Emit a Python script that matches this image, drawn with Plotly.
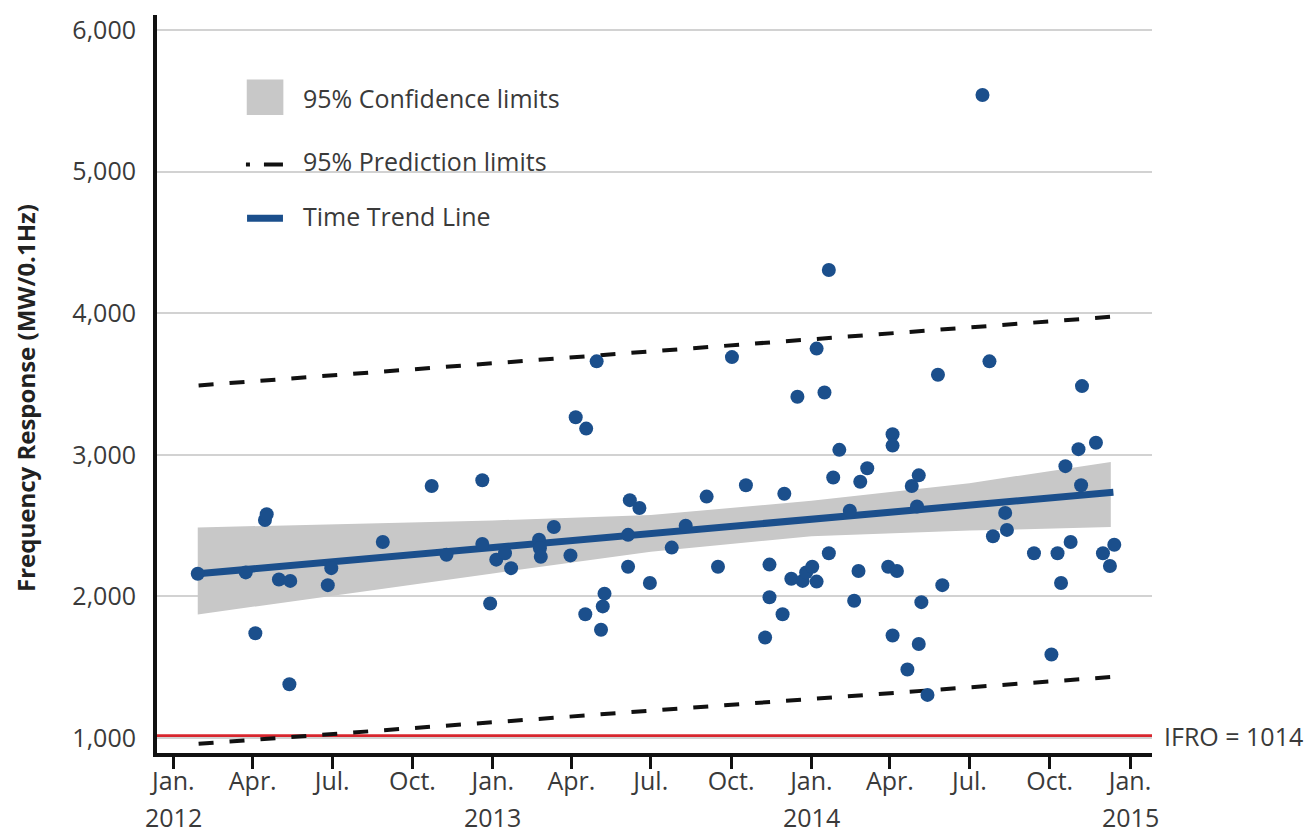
import plotly.graph_objects as go

# ---------------- data ----------------
obs_dates = [
    "2012-01-29", "2012-03-24", "2012-04-04", "2012-04-15", "2012-04-17", "2012-05-01",
    "2012-05-13", "2012-05-14", "2012-06-26", "2012-06-30", "2012-08-28", "2012-10-23",
    "2012-11-09", "2012-12-20", "2012-12-20", "2012-12-29", "2013-01-05", "2013-01-15",
    "2013-01-22", "2013-02-23", "2013-02-24", "2013-02-25", "2013-03-12", "2013-03-31",
    "2013-04-06", "2013-04-17", "2013-04-18", "2013-04-30", "2013-05-05", "2013-05-07",
    "2013-05-09", "2013-06-05", "2013-06-05", "2013-06-07", "2013-06-18", "2013-06-30",
    "2013-07-25", "2013-08-10", "2013-09-03", "2013-09-16", "2013-10-02", "2013-10-18",
    "2013-11-09", "2013-11-14", "2013-11-14", "2013-11-29", "2013-12-01", "2013-12-09",
    "2013-12-16", "2013-12-22", "2013-12-26", "2014-01-02", "2014-01-07", "2014-01-07",
    "2014-01-16", "2014-01-21", "2014-01-21", "2014-01-26", "2014-02-02", "2014-02-14",
    "2014-02-19", "2014-02-24", "2014-02-26", "2014-03-06", "2014-03-30", "2014-04-04",
    "2014-04-04", "2014-04-04", "2014-04-09", "2014-04-21", "2014-04-26", "2014-05-02",
    "2014-05-04", "2014-05-04", "2014-05-07", "2014-05-14", "2014-05-26", "2014-05-31",
    "2014-07-16", "2014-07-24", "2014-07-28", "2014-08-11", "2014-08-13", "2014-09-13",
    "2014-10-03", "2014-10-10", "2014-10-14", "2014-10-19", "2014-10-25", "2014-11-03",
    "2014-11-06", "2014-11-07", "2014-11-23", "2014-12-01", "2014-12-09", "2014-12-14",
]
obs_values = [
    2160, 2170, 1740, 2540, 2580, 2120,
    1380, 2110, 2080, 2200, 2385, 2780,
    2295, 2820, 2370, 1950, 2260, 2305,
    2200, 2400, 2340, 2280, 2490, 2290,
    3265, 1875, 3185, 3660, 1765, 1930,
    2020, 2435, 2210, 2680, 2625, 2095,
    2345, 2500, 2705, 2210, 3690, 2785,
    1710, 2225, 1995, 1875, 2725, 2125,
    3410, 2110, 2170, 2210, 2105, 3750,
    3440, 4305, 2305, 2840, 3035, 2605,
    1970, 2180, 2810, 2905, 2210, 3145,
    3065, 1725, 2180, 1485, 2780, 2635,
    2855, 1665, 1960, 1305, 3565, 2080,
    5540, 3660, 2425, 2590, 2470, 2305,
    1590, 2305, 2095, 2920, 2385, 3040,
    2785, 3485, 3085, 2305, 2215, 2365,
]

trend_dates = ["2012-01-29", "2014-12-13"]
trend_values = [2160, 2735]

band_dates = ["2012-01-29", "2012-07-01", "2013-01-01", "2013-07-01",
              "2014-01-01", "2014-07-01", "2014-12-10"]
band_upper = [2487, 2510, 2537, 2575, 2675, 2800, 2950]
band_lower = [1873, 2004, 2163, 2315, 2425, 2465, 2490]

pred_dates = ["2012-01-30", "2014-12-11"]
pred_upper = [3490, 3975]
pred_lower = [960, 1432]

IFRO = 1014

tick_dates = ["2012-01-01", "2012-04-01", "2012-07-01", "2012-10-01",
              "2013-01-01", "2013-04-01", "2013-07-01", "2013-10-01",
              "2014-01-01", "2014-04-01", "2014-07-01", "2014-10-01",
              "2015-01-01"]
tick_text = ["Jan.", "Apr.", "Jul.", "Oct.", "Jan.", "Apr.", "Jul.", "Oct.",
             "Jan.", "Apr.", "Jul.", "Oct.", "Jan."]
year_dates = ["2012-01-01", "2013-01-01", "2014-01-01", "2015-01-01"]
year_text = ["2012", "2013", "2014", "2015"]

legend_labels = ["95% Confidence limits", "95% Prediction limits", "Time Trend Line"]

# ---------------- styles ----------------
FONT = "Open Sans"
FS = 25
TXT = "#3a3a3a"
BLUE = "#1b4f8c"
GRAY_BAND = "#c8c8c8"
RED = "#d8262e"

fig = go.Figure()

# confidence band
fig.add_trace(go.Scatter(
    x=band_dates + band_dates[::-1],
    y=band_upper + band_lower[::-1],
    fill="toself", fillcolor=GRAY_BAND, line=dict(width=0),
    mode="lines", hoverinfo="skip", showlegend=False))

# prediction limits
for vals in (pred_upper, pred_lower):
    fig.add_trace(go.Scatter(
        x=pred_dates, y=vals, mode="lines",
        line=dict(color="#111111", width=4, dash="15px,16px"),
        showlegend=False))

# trend line
fig.add_trace(go.Scatter(
    x=trend_dates, y=trend_values, mode="lines",
    line=dict(color=BLUE, width=7), showlegend=False))

# observations
fig.add_trace(go.Scatter(
    x=obs_dates, y=obs_values, mode="markers",
    marker=dict(color=BLUE, size=14, line=dict(width=0)),
    showlegend=False))

shapes = []
# IFRO line
shapes.append(dict(type="line", xref="paper", x0=0, x1=1, yref="y", y0=IFRO, y1=IFRO,
                   line=dict(color=RED, width=4), layer="between"))
# legend box (white, hides gridline)
shapes.append(dict(type="rect", xref="paper", yref="paper",
                   x0=0.0653, x1=0.4231, y0=0.68, y1=0.955,
                   fillcolor="white", line=dict(width=0), layer="between"))
# legend symbols
shapes.append(dict(type="rect", xref="paper", yref="paper",
                   x0=0.0902, x1=0.1270, y0=0.8645, y1=0.9126,
                   fillcolor=GRAY_BAND, line=dict(width=0), layer="above"))
shapes.append(dict(type="line", xref="paper", yref="paper",
                   x0=0.0894, x1=0.1266, y0=0.7973, y1=0.7973,
                   line=dict(color="#111111", width=4, dash="4px,14px,19px"), layer="above"))
shapes.append(dict(type="line", xref="paper", yref="paper",
                   x0=0.0905, x1=0.1266, y0=0.7247, y1=0.7247,
                   line=dict(color=BLUE, width=7), layer="above"))

annotations = []
for lbl, yy in zip(legend_labels, [0.8869, 0.8027, 0.7270]):
    annotations.append(dict(text=lbl, xref="paper", yref="paper", x=0.1447, y=yy,
                            xanchor="left", yanchor="middle", showarrow=False,
                            font=dict(family=FONT, size=FS, color=TXT)))
# year labels
for d, t in zip(year_dates, year_text):
    annotations.append(dict(text=t, xref="x", yref="paper", x=d, y=-0.087,
                            xanchor="center", yanchor="middle", showarrow=False,
                            font=dict(family=FONT, size=FS, color=TXT)))
# IFRO label
annotations.append(dict(text=f"IFRO = {IFRO}", xref="paper", yref="y", x=1, y=IFRO,
                        xanchor="left", yanchor="middle", xshift=10, showarrow=False,
                        font=dict(family=FONT, size=FS, color=TXT)))
# y-axis title
annotations.append(dict(text="<b>Frequency Response (MW/0.1Hz)</b>", xref="paper", yref="paper",
                        x=-0.1327, y=0.481, textangle=-90, xanchor="center", yanchor="middle",
                        showarrow=False, font=dict(family=FONT, size=24, color="#222222")))

fig.update_layout(
    width=1308, height=836,
    margin=dict(l=157, r=156, t=13, b=83),
    paper_bgcolor="white", plot_bgcolor="white",
    font=dict(family=FONT, size=FS, color=TXT),
    showlegend=False,
    shapes=shapes, annotations=annotations,
    xaxis=dict(
        type="date", range=["2011-12-13 08:00", "2015-01-26 05:00"],
        tickmode="array", tickvals=tick_dates, ticktext=tick_text,
        ticks="outside", ticklen=12, tickwidth=3, tickcolor="#111111",
        ticklabelstandoff=-9,
        showline=True, linecolor="#111111", linewidth=4,
        showgrid=False, zeroline=False,
        tickfont=dict(family=FONT, size=FS, color=TXT),
    ),
    yaxis=dict(
        range=[895, 6105],
        tickvals=[1000, 2000, 3000, 4000, 5000, 6000],
        ticktext=["1,000", "2,000", "3,000", "4,000", "5,000", "6,000"],
        ticks="", ticklabelstandoff=12,
        showline=True, linecolor="#111111", linewidth=4,
        showgrid=True, gridcolor="#d2d2d2", gridwidth=2, zeroline=False,
        tickfont=dict(family=FONT, size=FS, color=TXT),
    ),
)

fig.write_html("out.html", config={"displayModeBar": False},
               post_script="document.body.style.margin='0px';")
